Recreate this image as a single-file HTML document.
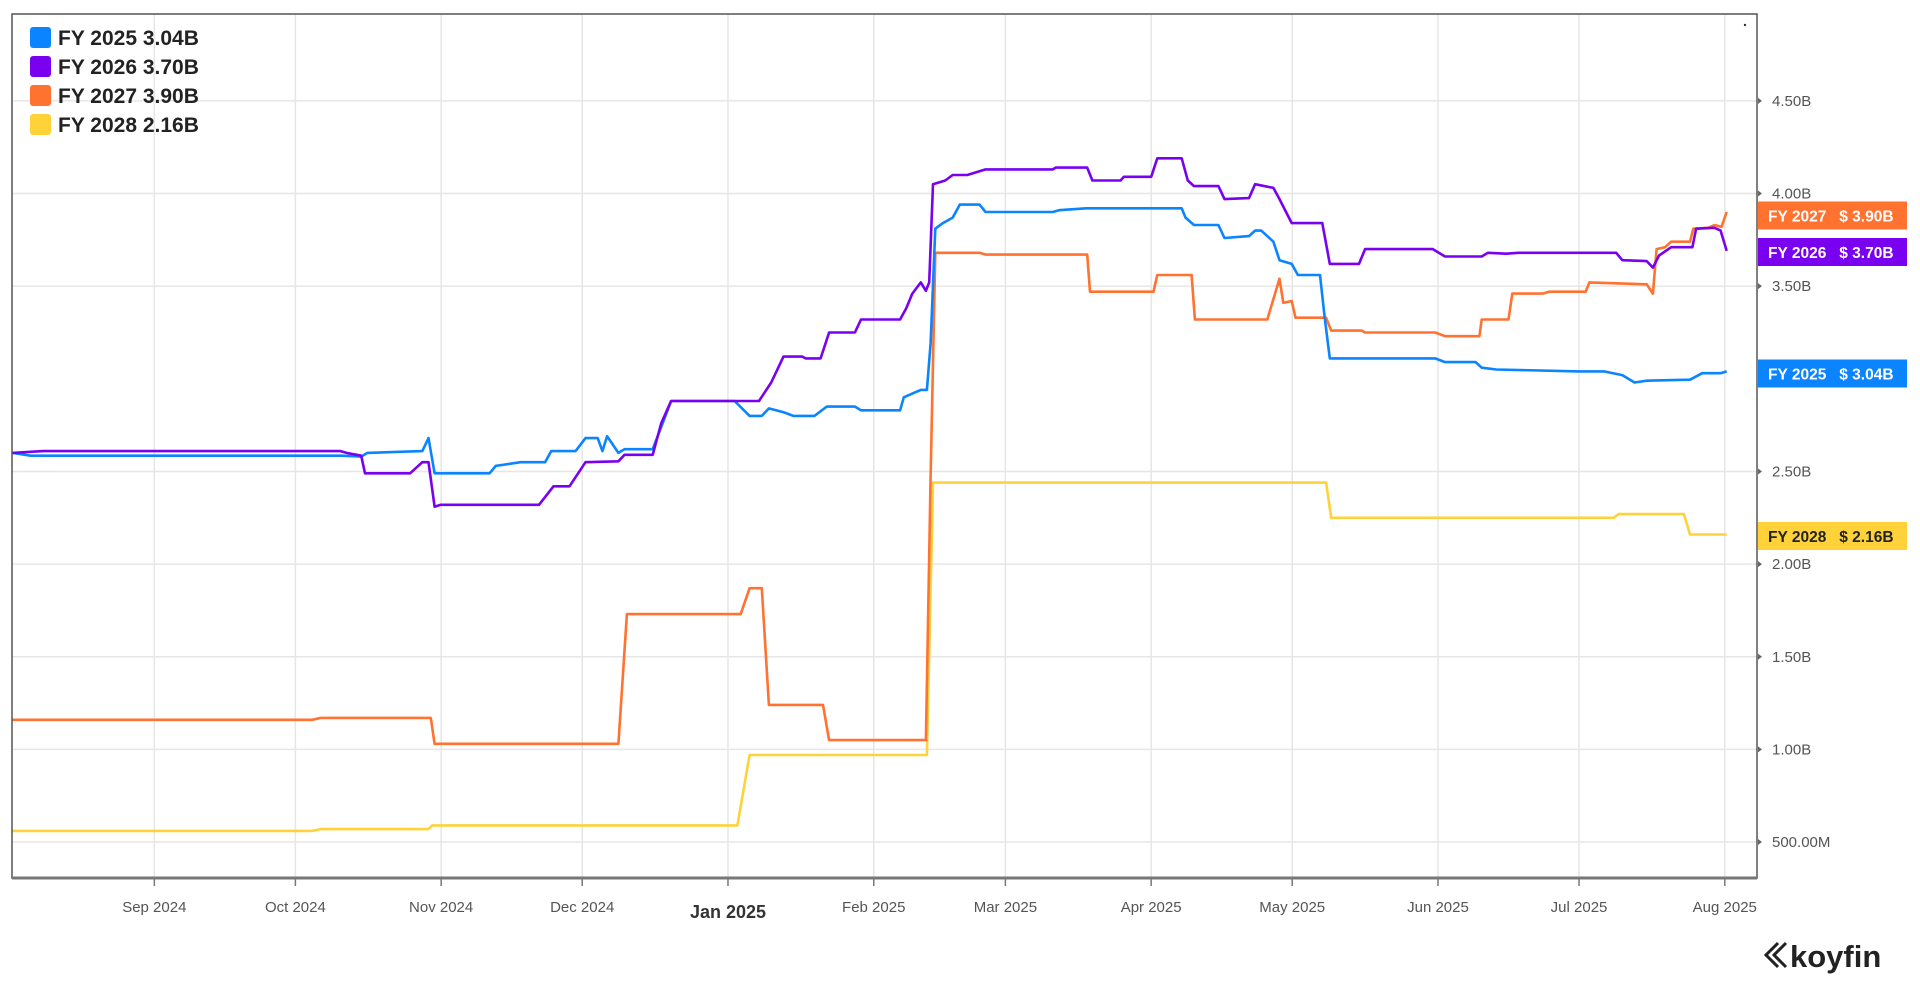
<!DOCTYPE html>
<html><head><meta charset="utf-8"><style>
html,body{margin:0;padding:0;background:#fff;width:1920px;height:992px;overflow:hidden;font-family:"Liberation Sans",sans-serif}
</style></head><body>
<svg id="chart" width="1920" height="992" xmlns="http://www.w3.org/2000/svg" font-family="Liberation Sans, sans-serif">
<g id="grid"></g>
<g id="series"></g>
<rect x="12" y="14" width="1745" height="864" fill="none" stroke="#555" stroke-width="1.5"/>
<line x1="12" y1="878" x2="1757" y2="878" stroke="#777" stroke-width="3"/>
<g id="yticks"></g>
<g id="xticks"></g>
<g id="legend"></g>
<g id="tags"></g>
<circle cx="1745" cy="25" r="1.2" fill="#333"/>
<g>
<path d="M1778 943 l-12 12 l12 12 M1786 943 l-12 12 l12 12" fill="none" stroke="#222" stroke-width="3"/>
<text x="1790" y="967" font-size="31" fill="#222" font-weight="bold">koyfin</text>
</g>
</svg>
<script>
const months=["Sep 2024","Oct 2024","Nov 2024","Dec 2024","Jan 2025","Feb 2025","Mar 2025","Apr 2025","May 2025","Jun 2025","Jul 2025","Aug 2025"];
const monthDays=[31,61,92,122,153,184,212,243,273,304,334,365];
const yTickVals=[0.5,1,1.5,2,2.5,3.5,4,4.5];
const yTickLabels=["500.00M","1.00B","1.50B","2.00B","2.50B","3.50B","4.00B","4.50B"];
const seriesNames=["FY 2025","FY 2026","FY 2027","FY 2028"];
const seriesColors=["#0a84ff","#7a00f0","#ff7230","#ffd23a"];
const lastValues=[3.04,3.70,3.90,2.16];
const d25=[0.8,4.7,70.6,75,76.3,88,89.3,90.6,102.3,103.6,108.9,114.1,115.4,120.6,122.7,125.3,126.3,127.3,129.7,131,137,138.8,140.9,154.4,157.6,160.2,161.7,164.8,166.9,171.4,174,180,181.3,189.6,190.4,192.2,194,195.3,196.1,197.1,198.7,200.8,202.3,206.5,207.8,222.1,223.4,229.2,249.5,250.3,252.1,257.3,258.6,263.8,265.1,266.4,269,270.3,272.9,274.2,278.9,279.9,281,303.4,305.5,312,313.3,316.4,334.1,339.3,343.2,345.8,348.4,357.6,360.2,364.1,365.4];
const v25=[2.60,2.585,2.585,2.58,2.60,2.61,2.68,2.49,2.49,2.53,2.55,2.55,2.61,2.61,2.68,2.68,2.61,2.69,2.60,2.62,2.62,2.74,2.88,2.88,2.80,2.80,2.84,2.82,2.80,2.80,2.85,2.85,2.83,2.83,2.90,2.92,2.94,2.94,3.19,3.81,3.84,3.87,3.94,3.94,3.90,3.90,3.91,3.92,3.92,3.87,3.83,3.83,3.76,3.77,3.80,3.80,3.74,3.64,3.62,3.56,3.56,3.33,3.11,3.11,3.09,3.09,3.06,3.05,3.04,3.04,3.02,2.98,2.99,2.995,3.03,3.03,3.04];
const d26=[0.8,7.3,70.6,71.9,75,75.8,85.4,88,89.3,90.6,91.9,112.8,115.9,119.3,122.7,129.7,131,137,138.8,140.9,159.6,162.2,164.8,168.8,169.5,172.7,174.5,180,181.3,189.6,190.9,192.2,194,195.1,195.8,196.6,199.2,200.8,203.9,207.8,222.1,222.7,229.4,230.5,236.5,237.2,243,244.3,249.5,250.8,252.1,257.3,258.6,263.8,265.1,269,270.3,272.9,279.4,281,287.2,288.5,302.9,305.5,313.3,314.6,318.5,321.1,341.9,343.2,348.4,349.7,351,353.6,358.1,358.9,362.8,364.1,365.4];
const v26=[2.60,2.61,2.61,2.60,2.585,2.49,2.49,2.55,2.55,2.31,2.32,2.32,2.42,2.42,2.55,2.555,2.59,2.59,2.76,2.88,2.88,2.98,3.12,3.12,3.11,3.11,3.25,3.25,3.32,3.32,3.38,3.46,3.52,3.475,3.52,4.05,4.07,4.10,4.10,4.13,4.13,4.14,4.14,4.07,4.07,4.09,4.09,4.19,4.19,4.07,4.04,4.04,3.97,3.975,4.05,4.03,3.97,3.84,3.84,3.62,3.62,3.70,3.70,3.66,3.66,3.68,3.675,3.68,3.68,3.64,3.635,3.60,3.665,3.71,3.71,3.81,3.815,3.80,3.69];
const d27=[0.8,64.6,66.4,89.8,90.6,129.7,131.5,155.7,157.6,160.2,161.7,173.2,174.5,195.1,196.1,197.1,206.5,207.8,229.4,230,243.5,244.3,251.6,252.3,267.7,270.3,271.1,272.9,273.7,280.2,281.3,287.8,288.5,303.4,305.5,312.8,313.3,319,319.8,326.3,327.6,335.4,336.2,348.4,349.7,350.5,352.3,353.6,357.6,358.3,361.5,362.8,364.3,365.4];
const v27=[1.16,1.16,1.17,1.17,1.03,1.03,1.73,1.73,1.87,1.87,1.24,1.24,1.05,1.05,2.47,3.68,3.68,3.67,3.67,3.47,3.47,3.56,3.56,3.32,3.32,3.54,3.41,3.42,3.33,3.33,3.26,3.26,3.25,3.25,3.23,3.23,3.32,3.32,3.46,3.46,3.47,3.47,3.52,3.51,3.46,3.70,3.71,3.74,3.74,3.81,3.815,3.83,3.82,3.90];
const d28=[0.8,64.6,66.4,89.3,90.1,155,157.6,195.3,196.6,280.2,281.3,341.4,342.4,356.3,357.6,365.4];
const v28=[0.56,0.56,0.57,0.57,0.59,0.59,0.97,0.97,2.44,2.44,2.25,2.25,2.27,2.27,2.16,2.16];
const allD=[d25,d26,d27,d28], allV=[v25,v26,v27,v28];

const NS="http://www.w3.org/2000/svg";
function xS(d){return 8.57+d*4.702;}
function yS(v){return 193.5+(4-v)*185.3;}
function mk(tag,attrs,parent){const e=document.createElementNS(NS,tag);for(const k in attrs)e.setAttribute(k,attrs[k]);parent.appendChild(e);return e;}
const grid=document.getElementById('grid'),ser=document.getElementById('series'),yt=document.getElementById('yticks'),xt=document.getElementById('xticks'),lg=document.getElementById('legend'),tg=document.getElementById('tags');

yTickVals.forEach((v,i)=>{
  const y=yS(v);
  const g=mk('line',{x1:12,x2:1757,y1:y,y2:y,stroke:'#e6e6e6','stroke-width':1.5},grid);
  
  
  const t=mk('text',{x:1772,y:y+5,'font-size':15,fill:'#555'},yt);
  t.textContent=yTickLabels[i];
  
  
  const m=mk('path',{d:`M1758 ${y-3} l4 3 l-4 3z`,fill:'#666'},yt);
  
  
});
months.forEach((m,i)=>{
  const x=xS(monthDays[i]);
  const g=mk('line',{x1:x,x2:x,y1:14,y2:878,stroke:'#e6e6e6','stroke-width':1.5},grid);
  
  
  const tk=mk('line',{x1:x,x2:x,y1:878,y2:886,stroke:'#777','stroke-width':1.5},xt);
  
  
  const jan=m==="Jan 2025";
  const t=mk('text',{x:x,y:jan?918:912,'font-size':jan?18:15,'text-anchor':'middle',fill:jan?'#333':'#555','font-weight':jan?'bold':'normal'},xt);
  t.textContent=m;
  
  
});
[3,2,0,1].forEach(s=>{
  const d=allD[s],v=allV[s];
  const n=Math.min(d.length,v.length);
  const pts=[];
  for(let i=0;i<n;i++)pts.push(xS(d[i]).toFixed(1)+','+yS(v[i]).toFixed(1));
  const p=mk('polyline',{points:pts.join(' '),fill:'none',stroke:seriesColors[s],'stroke-width':2.6,'stroke-linejoin':'round'},ser);
  
  
});
seriesNames.forEach((n,i)=>{
  const y=37+i*29;
  const g=mk('g',{},lg);
  
  
  mk('rect',{x:30,y:y-10,width:21,height:21,rx:3,fill:seriesColors[i]},g);
  const t=mk('text',{x:58,y:y+8,'font-size':21,'font-weight':'bold',fill:'#222'},g);
  t.textContent=n+' '+lastValues[i].toFixed(2)+'B';
});
const tagY=[373.5,252,215.5,536];
seriesNames.forEach((n,i)=>{
  const g=mk('g',{},tg);
  
  
  mk('rect',{x:1758,y:tagY[i]-14,width:149,height:28,fill:seriesColors[i]},g);
  const t=mk('text',{x:1768,y:tagY[i]+6,'font-size':15.5,'font-weight':'bold',fill:i===3?'#222':'#fff'},g);
  t.textContent=n+'   $ '+lastValues[i].toFixed(2)+'B';
  t.setAttribute('xml:space','preserve');
  t.style.whiteSpace='pre';
});
</script>
</body></html>
